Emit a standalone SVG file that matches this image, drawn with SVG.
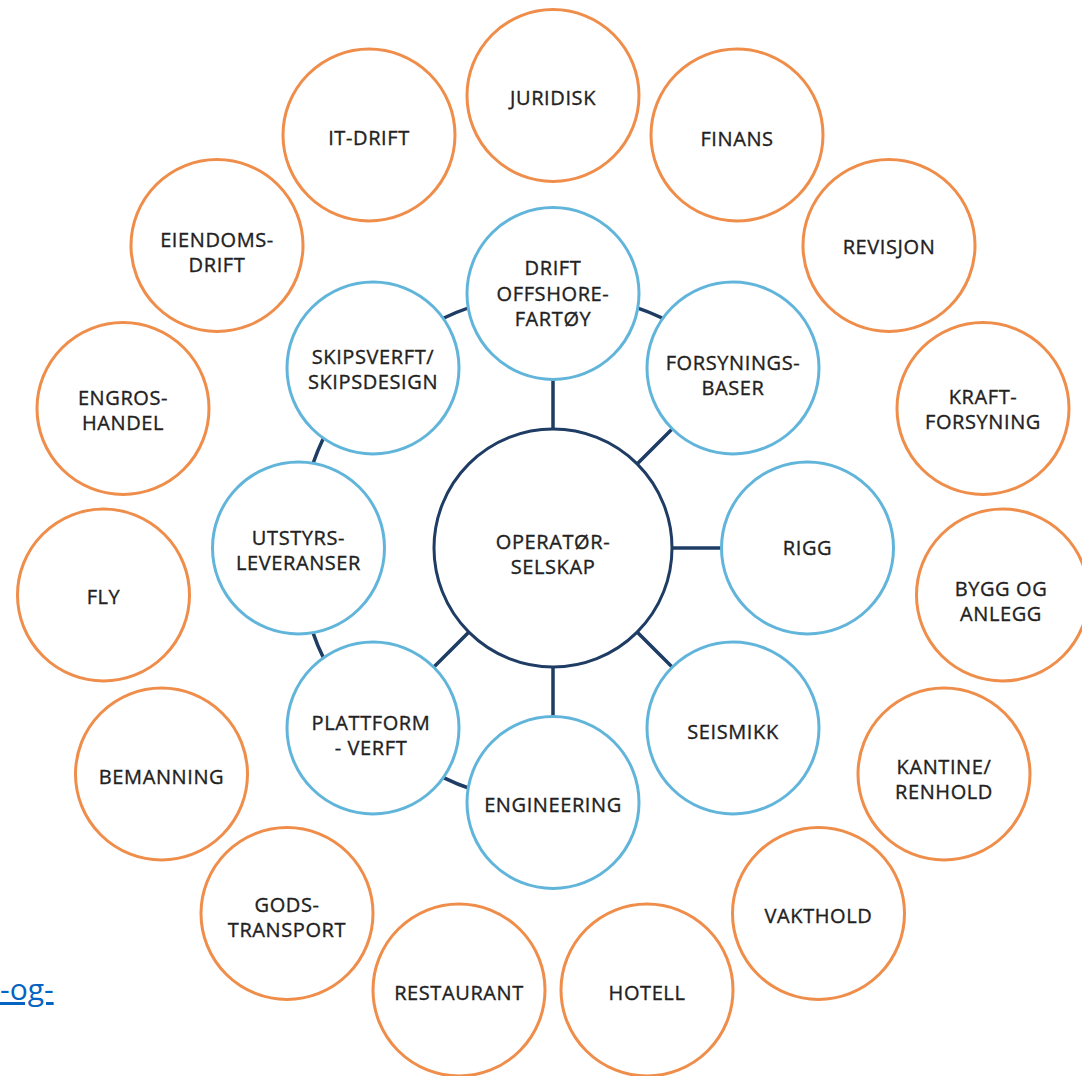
<svg xmlns="http://www.w3.org/2000/svg" width="1082" height="1076" viewBox="0 0 1082 1076">
<style>
.o{fill:#fff;stroke:#ef8d4a;stroke-width:3}
.b{fill:#fff;stroke:#62b5da;stroke-width:3}
.c{fill:#fff;stroke:#1e3c64;stroke-width:3}
.t{font-family:"Open Sans","Noto Sans","Liberation Sans",sans-serif;font-size:20px;font-weight:500;fill:#222;stroke:#222;stroke-width:0.35px;text-anchor:middle;letter-spacing:0.6px}
.k{stroke:#1e3c64;stroke-width:3.5;fill:none}
.lnk{font-family:"Open Sans","Liberation Sans",sans-serif;font-size:30px;fill:#0563c1;text-decoration:underline}
</style>
<rect width="1082" height="1076" fill="#fff"/>
<g id="connectors">
<path class="k" d="M 553 802.5 A 254.5 254.5 0 1 1 732.96 368.04"/>
<line class="k" x1="553" y1="433" x2="553" y2="376"/>
<line class="k" x1="634.3" y1="466.7" x2="674.6" y2="426.4"/>
<line class="k" x1="668" y1="548" x2="725" y2="548"/>
<line class="k" x1="634.3" y1="629.3" x2="674.6" y2="669.6"/>
<line class="k" x1="553" y1="663" x2="553" y2="720"/>
<line class="k" x1="471.7" y1="629.3" x2="431.4" y2="669.6"/>
</g>
<g id="operator"><circle class="c" cx="553" cy="548" r="119"/><text class="t" x="553" y="548.5">OPERATØR-</text><text class="t" x="553" y="573.5">SELSKAP</text></g>
<g id="drift-offshore"><circle class="b" cx="553" cy="293.5" r="86"/><text class="t" x="553" y="275">DRIFT</text><text class="t" x="553" y="301">OFFSHORE-</text><text class="t" x="553" y="326">FARTØY</text></g>
<g id="forsyningsbaser"><circle class="b" cx="733" cy="368" r="86"/><text class="t" x="733" y="370">FORSYNINGS-</text><text class="t" x="733" y="395">BASER</text></g>
<g id="rigg"><circle class="b" cx="807.5" cy="548" r="86"/><text class="t" x="807.5" y="555">RIGG</text></g>
<g id="seismikk"><circle class="b" cx="733" cy="728" r="86"/><text class="t" x="733" y="739">SEISMIKK</text></g>
<g id="engineering"><circle class="b" cx="553" cy="802.5" r="86"/><text class="t" x="553" y="812">ENGINEERING</text></g>
<g id="plattform"><circle class="b" cx="373" cy="728" r="86"/><text class="t" x="371" y="730">PLATTFORM</text><text class="t" x="371" y="755">- VERFT</text></g>
<g id="utstyr"><circle class="b" cx="298.5" cy="548" r="86"/><text class="t" x="298.5" y="545">UTSTYRS-</text><text class="t" x="298.5" y="570">LEVERANSER</text></g>
<g id="skipsverft"><circle class="b" cx="373" cy="368" r="86"/><text class="t" x="373" y="364">SKIPSVERFT/</text><text class="t" x="373" y="389">SKIPSDESIGN</text></g>
<g id="juridisk"><circle class="o" cx="553" cy="95.5" r="86"/><text class="t" x="553" y="105">JURIDISK</text></g>
<g id="finans"><circle class="o" cx="737" cy="135" r="86"/><text class="t" x="737" y="146">FINANS</text></g>
<g id="revisjon"><circle class="o" cx="889" cy="245.5" r="86"/><text class="t" x="889" y="254">REVISJON</text></g>
<g id="kraftforsyning"><circle class="o" cx="983" cy="408.5" r="86"/><text class="t" x="983" y="404">KRAFT-</text><text class="t" x="983" y="429">FORSYNING</text></g>
<g id="bygg"><circle class="o" cx="1002.5" cy="595" r="86"/><text class="t" x="1001" y="596">BYGG OG</text><text class="t" x="1001" y="621">ANLEGG</text></g>
<g id="kantine"><circle class="o" cx="944" cy="774" r="86"/><text class="t" x="944" y="774">KANTINE/</text><text class="t" x="944" y="799">RENHOLD</text></g>
<g id="vakthold"><circle class="o" cx="818.5" cy="913.5" r="86"/><text class="t" x="818.5" y="923">VAKTHOLD</text></g>
<g id="hotell"><circle class="o" cx="647" cy="990" r="86"/><text class="t" x="647" y="1000">HOTELL</text></g>
<g id="restaurant"><circle class="o" cx="459" cy="990" r="86"/><text class="t" x="459" y="1000">RESTAURANT</text></g>
<g id="godstransport"><circle class="o" cx="287" cy="913.5" r="86"/><text class="t" x="287" y="912">GODS-</text><text class="t" x="287" y="937">TRANSPORT</text></g>
<g id="bemanning"><circle class="o" cx="161.5" cy="774" r="86"/><text class="t" x="161.5" y="784">BEMANNING</text></g>
<g id="fly"><circle class="o" cx="103.5" cy="595" r="86"/><text class="t" x="103.5" y="604">FLY</text></g>
<g id="engroshandel"><circle class="o" cx="123" cy="408.5" r="86"/><text class="t" x="123" y="405">ENGROS-</text><text class="t" x="123" y="430">HANDEL</text></g>
<g id="eiendomsdrift"><circle class="o" cx="217" cy="245.5" r="86"/><text class="t" x="217" y="247">EIENDOMS-</text><text class="t" x="217" y="272">DRIFT</text></g>
<g id="itdrift"><circle class="o" cx="369" cy="135" r="86"/><text class="t" x="369" y="145">IT-DRIFT</text></g>
<text class="lnk" x="0" y="1000">-og-</text>
</svg>
